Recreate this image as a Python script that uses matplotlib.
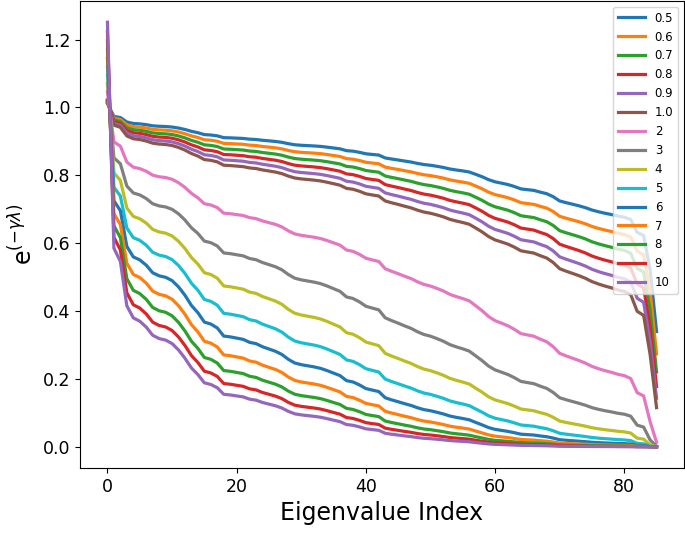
import numpy as np
import matplotlib
matplotlib.use('Agg')
import matplotlib.pyplot as plt

#eigenvalues (sorted), one per index
eigvals = [-0.0224, 0.0536, 0.0605, 0.0878, 0.0968, 0.0994, 0.1042, 0.1113, 0.1143, 0.1157,
           0.1190, 0.1254, 0.1344, 0.1460, 0.1548, 0.1669, 0.1695, 0.1749, 0.1867, 0.1879,
           0.1898, 0.1917, 0.1964, 0.1985, 0.2036, 0.2074, 0.2113, 0.2170, 0.2260, 0.2332,
           0.2365, 0.2388, 0.2411, 0.2442, 0.2490, 0.2546, 0.2603, 0.2725, 0.2759, 0.2836,
           0.2938, 0.2983, 0.3026, 0.3225, 0.3299, 0.3366, 0.3440, 0.3510, 0.3607, 0.3687,
           0.3737, 0.3810, 0.3893, 0.4001, 0.4076, 0.4142, 0.4220, 0.4390, 0.4570, 0.4788,
           0.4950, 0.5050, 0.5157, 0.5307, 0.5490, 0.5550, 0.5607, 0.5743, 0.5867, 0.6107,
           0.6448, 0.6588, 0.6717, 0.6850, 0.7004, 0.7200, 0.7346, 0.7472, 0.7583, 0.7717,
           0.7810, 0.8020, 0.9180, 0.9490, 1.3000, 2.1600]

#gamma values and their legend labels
gammas = [0.5, 0.6, 0.7, 0.8, 0.9, 1.0, 2, 3, 4, 5, 6, 7, 8, 9, 10]
labels = ['0.5', '0.6', '0.7', '0.8', '0.9', '1.0', '2', '3', '4', '5', '6', '7', '8', '9', '10']

lam = np.array(eigvals)
idx = np.arange(len(lam))

fig = plt.figure(figsize=(6.85, 5.33), dpi=100)
ax = fig.add_axes([80/685, 1-468/533, 604/685, 467/533])

for g, lab in zip(gammas, labels):
    ax.plot(idx, np.exp(-g*lam), lw=2.3, label=lab)

ax.set_xlabel('Eigenvalue Index', fontsize=17)
ax.set_ylabel(r'e$^{(-\gamma\lambda)}$', fontsize=17)
ax.tick_params(labelsize=12.5)
ax.legend(loc='upper right', fontsize=8.5, handlelength=2.3)

plt.savefig('out.png', dpi=100)
